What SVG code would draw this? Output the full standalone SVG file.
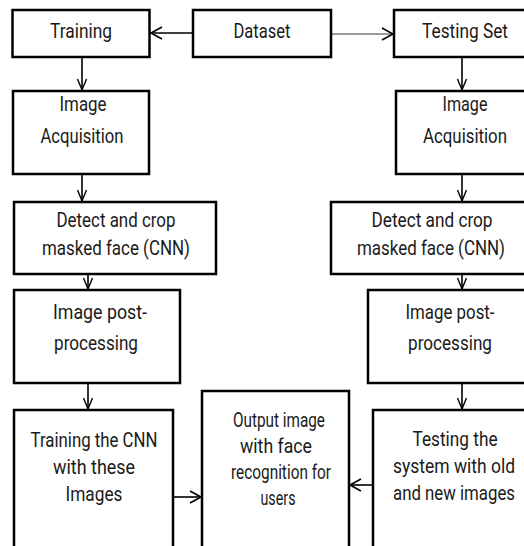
<svg xmlns="http://www.w3.org/2000/svg" width="524" height="546" viewBox="0 0 524 546">
<style>
.box{fill:#fff;stroke:#000;stroke-width:2.5}
.t{font-family:Roboto,"Liberation Sans",sans-serif;font-size:20px;fill:#1a1a1a;text-anchor:middle}
.c{fill:none;stroke:#000;stroke-width:1.6}
.thin{fill:none;stroke:#333;stroke-width:1}
</style>
<defs>
<marker id="ah" markerUnits="userSpaceOnUse" markerWidth="14" markerHeight="14" refX="11" refY="6" orient="auto" overflow="visible">
<path d="M0,0 L11,6 L0,12" fill="none" stroke="#000" stroke-width="1.6"/>
</marker>
<marker id="av" markerUnits="userSpaceOnUse" markerWidth="14" markerHeight="14" refX="11" refY="4.5" orient="auto" overflow="visible">
<path d="M0,0 L11,4.5 L0,9" fill="none" stroke="#000" stroke-width="1.4"/>
</marker>
</defs>
<rect width="524" height="546" fill="#fff"/>
<g id="connectors">
<line class="c" x1="193" y1="33" x2="151" y2="33" marker-end="url(#ah)"/>
<line class="thin" x1="331" y1="34" x2="393" y2="34" marker-end="url(#ah)"/>
<line class="c" x1="82" y1="57" x2="82" y2="90" marker-end="url(#av)"/>
<line class="c" x1="82" y1="174" x2="82" y2="201" marker-end="url(#av)"/>
<line class="c" x1="88" y1="274" x2="88" y2="289" marker-end="url(#av)"/>
<line class="c" x1="88" y1="383" x2="88" y2="409" marker-end="url(#av)"/>
<line class="c" x1="462" y1="57" x2="462" y2="90" marker-end="url(#av)"/>
<line class="c" x1="462" y1="174" x2="462" y2="201" marker-end="url(#av)"/>
<line class="c" x1="462" y1="274" x2="462" y2="289" marker-end="url(#av)"/>
<line class="c" x1="462" y1="383" x2="462" y2="409" marker-end="url(#av)"/>
<line class="c" x1="173" y1="497" x2="201" y2="497" marker-end="url(#ah)"/>
<line class="c" x1="373" y1="485" x2="350" y2="485" marker-end="url(#ah)"/>
</g>
<g id="training">
<rect class="box" x="12.5" y="10" width="137" height="47"/>
<text class="t" transform="translate(81,38) scale(.85,1)" textLength="72.9" lengthAdjust="spacingAndGlyphs">Training</text>
</g>
<g id="dataset">
<rect class="box" x="193" y="10" width="138" height="47"/>
<text class="t" transform="translate(262,38) scale(.85,1)" textLength="67.1" lengthAdjust="spacingAndGlyphs">Dataset</text>
</g>
<g id="testing-set">
<rect class="box" x="394" y="10" width="142" height="47"/>
<text class="t" transform="translate(465,38) scale(.85,1)" textLength="101.2" lengthAdjust="spacingAndGlyphs">Testing Set</text>
</g>
<g id="acq-left">
<rect class="box" x="13" y="91" width="136" height="83"/>
<text class="t" transform="translate(83,111) scale(.85,1)" textLength="55.3" lengthAdjust="spacingAndGlyphs">Image</text>
<text class="t" transform="translate(82,143) scale(.85,1)" textLength="97.6" lengthAdjust="spacingAndGlyphs">Acquisition</text>
</g>
<g id="acq-right">
<rect class="box" x="396" y="91" width="142" height="83"/>
<text class="t" transform="translate(465,111) scale(.85,1)" textLength="52.9" lengthAdjust="spacingAndGlyphs">Image</text>
<text class="t" transform="translate(465,143) scale(.85,1)" textLength="98.8" lengthAdjust="spacingAndGlyphs">Acquisition</text>
</g>
<g id="detect-left">
<rect class="box" x="14" y="202" width="202" height="72"/>
<text class="t" transform="translate(116,227) scale(.85,1)" textLength="140" lengthAdjust="spacingAndGlyphs">Detect and crop</text>
<text class="t" transform="translate(116,255) scale(.85,1)" textLength="174.1" lengthAdjust="spacingAndGlyphs">masked face (CNN)</text>
</g>
<g id="detect-right">
<rect class="box" x="331" y="202" width="205" height="72"/>
<text class="t" transform="translate(432,227) scale(.85,1)" textLength="142.4" lengthAdjust="spacingAndGlyphs">Detect and crop</text>
<text class="t" transform="translate(431,255) scale(.85,1)" textLength="174.1" lengthAdjust="spacingAndGlyphs">masked face (CNN)</text>
</g>
<g id="post-left">
<rect class="box" x="14" y="290" width="166" height="93"/>
<text class="t" transform="translate(100,319) scale(.85,1)" textLength="110.6" lengthAdjust="spacingAndGlyphs">Image post-</text>
<text class="t" transform="translate(96,350) scale(.85,1)" textLength="98.8" lengthAdjust="spacingAndGlyphs">processing</text>
</g>
<g id="post-right">
<rect class="box" x="368" y="290" width="168" height="93"/>
<text class="t" transform="translate(450,319) scale(.85,1)" textLength="104.7" lengthAdjust="spacingAndGlyphs">Image post-</text>
<text class="t" transform="translate(450,350) scale(.85,1)" textLength="98.8" lengthAdjust="spacingAndGlyphs">processing</text>
</g>
<g id="train-cnn">
<rect class="box" x="14" y="410" width="159" height="150"/>
<text class="t" transform="translate(94,447) scale(.85,1)" textLength="149.4" lengthAdjust="spacingAndGlyphs">Training the CNN</text>
<text class="t" transform="translate(94,474) scale(.85,1)" textLength="96.5" lengthAdjust="spacingAndGlyphs">with these</text>
<text class="t" transform="translate(94,501) scale(.85,1)" textLength="67.1" lengthAdjust="spacingAndGlyphs">Images</text>
</g>
<g id="output">
<rect class="box" x="202" y="391" width="147" height="170"/>
<text class="t" transform="translate(279,427) scale(.85,1)" textLength="108.2" lengthAdjust="spacingAndGlyphs">Output image</text>
<text class="t" transform="translate(276,453) scale(.85,1)" textLength="84.7" lengthAdjust="spacingAndGlyphs">with face</text>
<text class="t" transform="translate(281,479) scale(.85,1)" textLength="117.6" lengthAdjust="spacingAndGlyphs">recognition for</text>
<text class="t" transform="translate(278,505) scale(.85,1)" textLength="41.2" lengthAdjust="spacingAndGlyphs">users</text>
</g>
<g id="testing-system">
<rect class="box" x="373" y="410" width="163" height="150"/>
<text class="t" transform="translate(455,446) scale(.85,1)" textLength="100" lengthAdjust="spacingAndGlyphs">Testing the</text>
<text class="t" transform="translate(454,473) scale(.85,1)" textLength="143.5" lengthAdjust="spacingAndGlyphs">system with old</text>
<text class="t" transform="translate(454,500) scale(.85,1)" textLength="143.5" lengthAdjust="spacingAndGlyphs">and new images</text>
</g>
</svg>
